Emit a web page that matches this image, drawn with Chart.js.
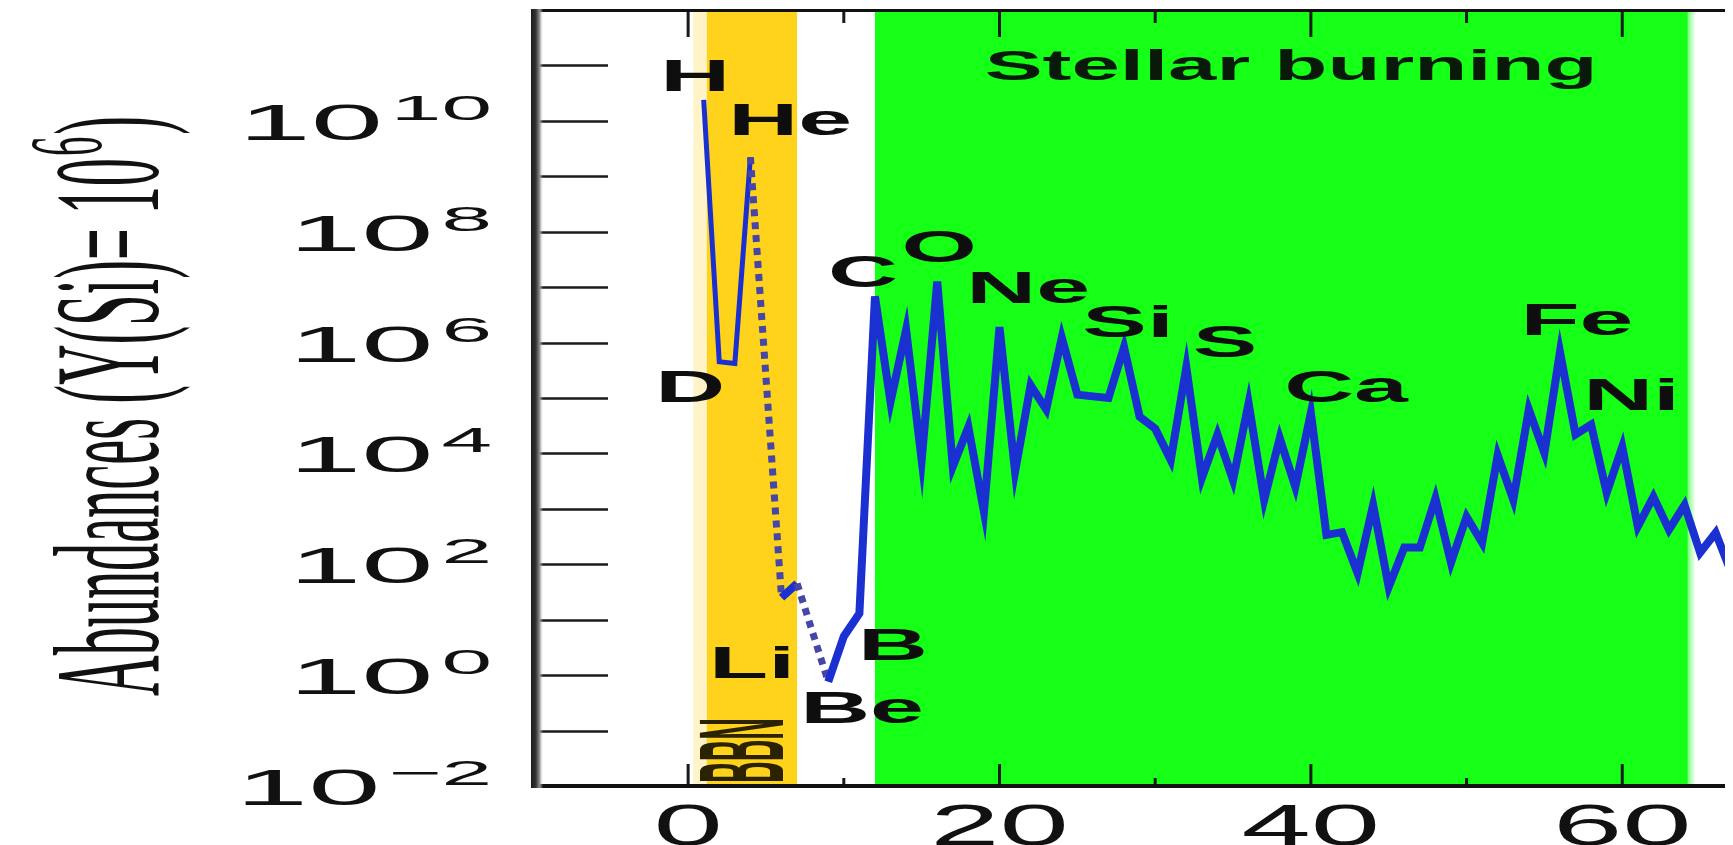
<!DOCTYPE html>
<html>
<head>
<meta charset="utf-8">
<script src="https://cdn.jsdelivr.net/npm/chart.js@4.4.1/dist/chart.umd.min.js"></script>
<style>
  html, body { margin: 0; padding: 0; background: #ffffff; }
  #wrap { width: 1733px; height: 845px; position: relative; }
</style>
</head>
<body>
<div id="wrap"><canvas id="chart"></canvas></div>
<script>
// Solar-system abundances per mass number A, normalised to Y(Si) = 1e6.
// A = 5 and A = 8 have no stable nuclei and are bridged with a dotted segment.
const massNumbers = [1, 2, 3, 4, 6, 7, 9, 10, 11,
  12, 13, 14, 15, 16, 17, 18, 19, 20, 21, 22, 23, 24, 25, 26, 27, 28, 29, 30,
  31, 32, 33, 34, 35, 36, 37, 38, 39, 40, 41, 42, 43, 44, 45, 46, 47, 48, 49,
  50, 51, 52, 53, 54, 55, 56, 57, 58, 59, 60, 61, 62, 63, 64, 65, 66, 67];
const abundances = [2.4e10, 4.5e5, 4.2e5, 2.2e9, 25, 45, 0.76, 5, 13,
  6.8e6, 8.5e4, 1.7e6, 7.6e3, 1.26e7, 5.8e3, 3.0e4, 890, 1.9e6, 4.7e3, 1.7e5,
  6.2e4, 1.23e6, 1.15e5, 1.07e5, 1.0e5, 8.3e5, 4.6e4, 2.8e4,
  7.6e3, 3.6e5, 3.6e3, 2.2e4, 3.3e3, 8.1e4, 1.45e3, 1.9e4, 2.5e3, 5.4e4,
  340, 380, 69, 1.17e3, 39, 200, 200, 1.55e3, 107,
  720, 245, 9.3e3, 1.45e3, 6.2e4, 1.02e4, 6.8e5, 2.2e4, 3.3e4, 1.95e3, 1.32e4,
  480, 1.66e3, 420, 1.17e3, 162, 370, 71];

// Axis ticks
const yTickExponents = [10, 8, 6, 4, 2, 0, -2];
const xTickLabels = [0, 20, 40, 60];

// Element names and where they sit (mass number, abundance)
const elementNames = ['H', 'He', 'D', 'Li', 'Be', 'B', 'C', 'O', 'Ne', 'Si', 'S', 'Ca', 'Fe', 'Ni'];
const elementAtA   = [0.45, 6.55, 0.13, 4.11, 11.17, 13.16, 11.23, 16.13, 21.84, 28.26, 34.49, 42.26, 57.09, 60.6];
const elementAtY   = [3.4e10, 5.6e9, 8.3e4, 0.89, 0.135, 1.86, 1.0e7, 2.9e7, 5.2e6, 1.26e6, 5.5e5, 8.5e4, 1.38e6, 6.2e4];

// Nucleosynthesis regions (mass-number ranges)
const bbnEdge = [0.33, 1.2];
const bbnBand = [1.2, 7.0];
const stellarBand = [12.0, 64.2];
const stellarTitle = 'Stellar burning';
const stellarTitleAt = [38.73, 5.5e10];
const bbnTitle = 'BBN';
const axisTitle = 'Abundances (Y(Si)= 10';
const axisTitleSup = '6';

const points = massNumbers.map((a, i) => ({ x: a, y: abundances[i] }));
const isGap = ctx => ctx.p1.parsed.x - ctx.p0.parsed.x > 1.5;
const isEarly = ctx => ctx.p1.parsed.x <= 4;

function stretched(ctx, text, x, y, font, sx, sy, align, color) {
  ctx.save();
  ctx.font = font;
  ctx.fillStyle = color || '#111';
  ctx.textBaseline = 'alphabetic';
  const w = ctx.measureText(text).width;
  let dx = 0;
  if (align === 'center') dx = -w * sx / 2;
  else if (align === 'right') dx = -w * sx;
  ctx.translate(x + dx, y);
  ctx.scale(sx, sy);
  ctx.fillText(text, 0, 0);
  ctx.restore();
}

const backgroundBands = {
  id: 'backgroundBands',
  beforeDatasetsDraw(chart) {
    const { ctx, chartArea: ca, scales: { x } } = chart;
    ctx.save();
    const band = (r, color) => {
      const l = x.getPixelForValue(r[0]), rr = x.getPixelForValue(r[1]);
      ctx.fillStyle = color;
      ctx.fillRect(l, ca.top, rr - l, ca.bottom - ca.top);
    };
    band(bbnEdge, '#fff3c8');
    band(bbnBand, '#ffd21c');
    band(stellarBand, '#16ff16');
    // soft right edge of the stellar region
    const r = x.getPixelForValue(stellarBand[1]);
    const g = ctx.createLinearGradient(r - 6, 0, r + 8, 0);
    g.addColorStop(0, 'rgba(22,255,22,1)');
    g.addColorStop(1, 'rgba(22,255,22,0)');
    ctx.fillStyle = g;
    ctx.fillRect(r - 6, ca.top, 14, ca.bottom - ca.top);
    ctx.restore();
  }
};

const frameAndText = {
  id: 'frameAndText',
  afterDatasetsDraw(chart) {
    const { ctx, chartArea: ca, scales: { x, y } } = chart;
    ctx.save();

    // y ticks: long inward marks every decade
    ctx.strokeStyle = '#1a1a1a';
    ctx.lineWidth = 2.5;
    for (let e = -1; e <= 11; e++) {
      const py = Math.round(y.getPixelForValue(Math.pow(10, e))) + 0.5;
      ctx.beginPath();
      ctx.moveTo(ca.left, py);
      ctx.lineTo(ca.left + 74, py);
      ctx.stroke();
    }
    // x ticks on top and bottom
    ctx.lineWidth = 3;
    for (let v = 0; v <= 60; v += 10) {
      const px = x.getPixelForValue(v);
      const major = v % 20 === 0;
      ctx.beginPath();
      ctx.moveTo(px, ca.top);
      ctx.lineTo(px, ca.top + (major ? 27 : 13));
      ctx.moveTo(px, ca.bottom);
      ctx.lineTo(px, ca.bottom - (major ? 22 : 8));
      ctx.stroke();
    }

    // frame
    ctx.fillStyle = '#111';
    ctx.fillRect(ca.left, ca.top - 1, ca.right - ca.left, 3);
    ctx.fillRect(ca.left - 2, ca.bottom - 2, ca.right - ca.left + 2, 4);
    const lg = ctx.createLinearGradient(ca.left - 3, 0, ca.left + 9, 0);
    lg.addColorStop(0, '#1a1a1a');
    lg.addColorStop(0.4, '#333');
    lg.addColorStop(0.7, '#8a8a8a');
    lg.addColorStop(1, 'rgba(210,210,210,0)');
    ctx.fillStyle = lg;
    ctx.fillRect(ca.left - 3, ca.top - 1, 12, ca.bottom - ca.top + 3);

    // y tick labels 10^n
    const sx = 2.6;
    yTickExponents.forEach(e => {
      const py = y.getPixelForValue(Math.pow(10, e));
      const base = '10';
      const sup = e < 0 ? '\u2212' + Math.abs(e) : String(e);
      ctx.font = '50px "Liberation Sans", Arial, sans-serif';
      const wb = ctx.measureText(base).width;
      ctx.font = '35px "Liberation Sans", Arial, sans-serif';
      const ws = ctx.measureText(sup).width;
      const total = (wb + 3 + ws) * sx;
      const left = 492 - total;
      stretched(ctx, base, left, py + 19, '50px "Liberation Sans", Arial, sans-serif', sx, 1, 'left', '#111');
      stretched(ctx, sup, left + (wb + 3) * sx, py - 1, '35px "Liberation Sans", Arial, sans-serif', sx, 1, 'left', '#111');
    });

    // x tick labels
    xTickLabels.forEach(v => {
      stretched(ctx, String(v), x.getPixelForValue(v), 845,
        '58px "Liberation Sans", Arial, sans-serif', 2.15, 1, 'center', '#111');
    });

    // element labels
    elementNames.forEach((n, i) => {
      stretched(ctx, n, x.getPixelForValue(elementAtA[i]), y.getPixelForValue(elementAtY[i]),
        'bold 44px "Liberation Sans", Arial, sans-serif', 2.2, 1, 'center', '#0e0e0e');
    });

    // region titles
    stretched(ctx, stellarTitle, x.getPixelForValue(stellarTitleAt[0]), y.getPixelForValue(stellarTitleAt[1]),
      'bold 43px "Liberation Sans", Arial, sans-serif', 2.02, 1, 'center', '#0a1a0a');

    ctx.save();
    ctx.translate(783, 783);
    ctx.rotate(-Math.PI / 2);
    ctx.scale(1, 4.0);
    ctx.font = 'bold 30px "Liberation Sans", Arial, sans-serif';
    ctx.fillStyle = '#2a2200';
    ctx.fillText(bbnTitle, 0, 0);
    ctx.restore();

    // vertical axis title
    ctx.save();
    ctx.translate(158, 696);
    ctx.rotate(-Math.PI / 2);
    ctx.scale(0.97, 2.6);
    ctx.font = '58px "Liberation Serif", "Times New Roman", serif';
    ctx.fillStyle = '#111';
    ctx.fillText(axisTitle, 0, 0);
    const wt = ctx.measureText(axisTitle).width;
    ctx.font = '40px "Liberation Serif", "Times New Roman", serif';
    ctx.fillText(axisTitleSup, wt + 2, -22);
    const w6 = ctx.measureText(axisTitleSup).width;
    ctx.font = '58px "Liberation Serif", "Times New Roman", serif';
    ctx.fillText(')', wt + 4 + w6, 0);
    ctx.restore();

    ctx.restore();
  }
};

new Chart(document.getElementById('chart'), {
  type: 'line',
  data: {
    datasets: [
      {
        data: points,
        borderColor: '#1a30d0',
        borderWidth: 8,
        pointRadius: 0,
        tension: 0,
        clip: 0,
        borderJoinStyle: 'miter',
        segment: {
          borderDash: ctx => isGap(ctx) ? [7, 6] : undefined,
          borderColor: ctx => isGap(ctx) ? '#4646a6' : undefined,
          borderWidth: ctx => isGap(ctx) ? 7 : (isEarly(ctx) ? 5 : undefined)
        }
      },
      {
        data: points,
        borderColor: 'rgba(105,205,240,0.7)',
        borderWidth: 3,
        pointRadius: 0,
        tension: 0,
        clip: 0,
        segment: {
          borderColor: ctx => isGap(ctx) ? 'rgba(0,0,0,0)' : undefined,
          borderWidth: ctx => isEarly(ctx) ? 1.5 : undefined
        }
      }
    ]
  },
  options: {
    responsive: true,
    maintainAspectRatio: false,
    animation: false,
    events: [],
    layout: { padding: { left: 534, right: 8, top: 10, bottom: 59 } },
    plugins: { legend: { display: false }, tooltip: { enabled: false } },
    scales: {
      x: { type: 'linear', min: -9.9, max: 66.6, display: false },
      y: { type: 'logarithmic', min: 1e-2, max: 1e12, display: false }
    }
  },
  plugins: [backgroundBands, frameAndText]
});
</script>
</body>
</html>
